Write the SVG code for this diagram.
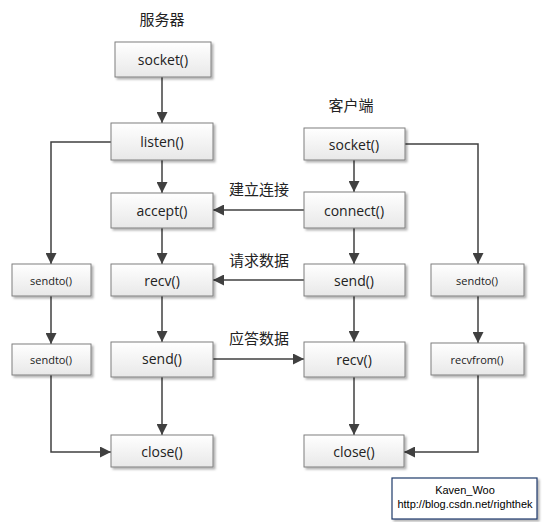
<svg xmlns="http://www.w3.org/2000/svg" width="543" height="522" viewBox="0 0 543 522">
<defs>
<linearGradient id="g" x1="0" y1="0" x2="0" y2="1">
<stop offset="0" stop-color="#ffffff"/>
<stop offset="1" stop-color="#e8e8e8"/>
</linearGradient>
<filter id="sh" x="-10%" y="-10%" width="130%" height="140%">
<feDropShadow dx="2" dy="2" stdDeviation="1.2" flood-color="#000" flood-opacity="0.3"/>
</filter>
<marker id="ah" markerWidth="11" markerHeight="11" viewBox="0 0 11 11" refX="11" refY="5.5" orient="auto" markerUnits="userSpaceOnUse">
<path d="M0,0 L11,5.5 L0,11 z" fill="#404040"/>
</marker>
</defs>
<style>
.box{fill:url(#g);stroke:#7f7f7f;stroke-width:1;filter:url(#sh)}
.t{font-family:"Open Sans","Liberation Sans",sans-serif;font-size:14px;fill:#222;text-anchor:middle;dominant-baseline:central}
.s{font-size:11px}
.lbl{font-family:"Noto Sans CJK SC",sans-serif;font-size:15px;fill:#222;text-anchor:middle;dominant-baseline:central}
.c{fill:none;stroke:#404040;stroke-width:1.5;marker-end:url(#ah)}
.credit{font-family:"Liberation Sans",Arial,sans-serif;font-size:11px;fill:#000;text-anchor:middle}
</style>
<rect width="543" height="522" fill="#fff"/>
<text class="lbl" x="162" y="18">服务器</text>
<text class="lbl" x="351" y="104">客户端</text>
<text class="lbl" x="259" y="188">建立连接</text>
<text class="lbl" x="259" y="259">请求数据</text>
<text class="lbl" x="259" y="337">应答数据</text>
<g id="connectors">
<path class="c" d="M162,77 V123"/>
<path class="c" d="M162,160 V193"/>
<path class="c" d="M162,228 V264"/>
<path class="c" d="M162,296 V342"/>
<path class="c" d="M162,377 V435"/>
<path class="c" d="M111,142 H51 V264"/>
<path class="c" d="M51,296 V344"/>
<path class="c" d="M51,375 V452 H111"/>
<path class="c" d="M354,160 V192"/>
<path class="c" d="M304,210 H213"/>
<path class="c" d="M354,228 V264"/>
<path class="c" d="M304,280 H213"/>
<path class="c" d="M354,296 V342"/>
<path class="c" d="M213,359 H304"/>
<path class="c" d="M354,377 V435"/>
<path class="c" d="M405,144 H478 V264"/>
<path class="c" d="M478,296 V343"/>
<path class="c" d="M478,375 V452 H404"/>
</g>
<g id="s_socket"><rect class="box" x="115" y="42" width="96" height="35"/><text class="t" x="163" y="59">socket()</text></g>
<g id="s_listen"><rect class="box" x="111" y="123" width="102" height="37"/><text class="t" x="162" y="141">listen()</text></g>
<g id="s_accept"><rect class="box" x="111" y="193" width="102" height="35"/><text class="t" x="162" y="210">accept()</text></g>
<g id="s_recv"><rect class="box" x="111" y="264" width="102" height="32"/><text class="t" x="162" y="280">recv()</text></g>
<g id="s_send"><rect class="box" x="111" y="342" width="102" height="35"/><text class="t" x="162" y="358">send()</text></g>
<g id="s_close"><rect class="box" x="111" y="435" width="102" height="32"/><text class="t" x="162" y="451">close()</text></g>
<g id="s_sendto1"><rect class="box" x="12" y="264" width="79" height="32"/><text class="t s" x="51" y="280">sendto()</text></g>
<g id="s_sendto2"><rect class="box" x="12" y="344" width="79" height="31"/><text class="t s" x="51" y="359">sendto()</text></g>
<g id="c_socket"><rect class="box" x="304" y="128" width="101" height="32"/><text class="t" x="354" y="144">socket()</text></g>
<g id="c_connect"><rect class="box" x="304" y="192" width="101" height="36"/><text class="t" x="354" y="210">connect()</text></g>
<g id="c_send"><rect class="box" x="304" y="264" width="101" height="32"/><text class="t" x="354" y="280">send()</text></g>
<g id="c_recv"><rect class="box" x="304" y="342" width="101" height="35"/><text class="t" x="354" y="359">recv()</text></g>
<g id="c_close"><rect class="box" x="304" y="435" width="100" height="32"/><text class="t" x="354" y="451">close()</text></g>
<g id="c_sendto"><rect class="box" x="431" y="264" width="93" height="32"/><text class="t s" x="477" y="280">sendto()</text></g>
<g id="c_recvfrom"><rect class="box" x="431" y="343" width="93" height="32"/><text class="t s" x="477" y="359">recvfrom()</text></g>
<g id="credit">
<rect x="392" y="478" width="145" height="41" fill="#fff" stroke="#1f3a6b" stroke-width="1.2" filter="url(#sh)"/>
<text class="credit" x="465" y="494">Kaven_Woo</text>
<text class="credit" x="465" y="508">http://blog.csdn.net/righthek</text>
</g>
</svg>
